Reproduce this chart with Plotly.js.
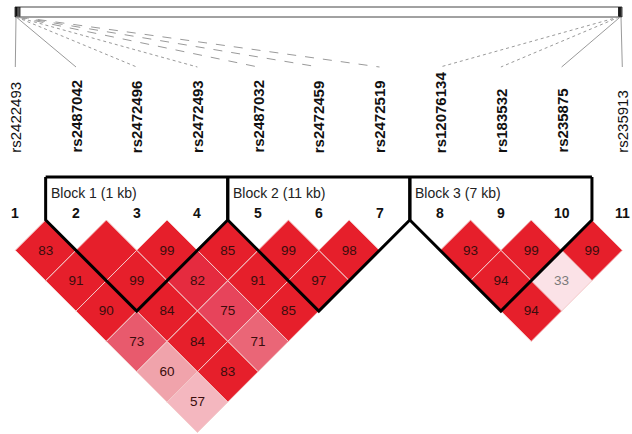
<!DOCTYPE html>
<html><head><meta charset="utf-8">
<script src="https://cdn.plot.ly/plotly-3.0.1.min.js"></script>
<style>html,body{margin:0;padding:0;background:#fff}#chart{width:632px;height:434px}</style>
</head><body><div id="chart"></div>
<script>
// ---- data ----
const snpNames = ['rs2422493','rs2487042','rs2472496','rs2472493','rs2487032','rs2472459','rs2472519','rs12076134','rs183532','rs235875','rs235913'];
const snpNumbers = ['1','2','3','4','5','6','7','8','9','10','11'];
// approximate genomic positions (kb, relative)
const snpPosKb = [0, 0.6, 1.2, 1.6, 3, 7, 12.6, 2000, 2002, 2005, 2007.6];
const inBlock = [false,true,true,true,true,true,true,true,true,true,false];
// pairwise D' (x100)
const pairA = [1,2,3,4,5,6,8,9,10, 1,2,3,4,5,8,9, 1,2,3,4,8, 1,2,3, 1,2, 1];
const pairB = [2,3,4,5,6,7,9,10,11, 3,4,5,6,7,10,11, 4,5,6,7,11, 5,6,7, 6,7, 7];
const dprime = [83,100,99,85,99,98,93,99,99, 91,99,82,91,97,94,33, 90,84,75,85,94, 73,84,71, 60,83, 57];
// blocks
const blockNames = ['Block 1 (1 kb)','Block 2 (11 kb)','Block 3 (7 kb)'];
const blockStart = [2,5,8];
const blockEnd = [4,7,10];

// ---- styles ----
const RED = '#e61f2b';
const cellColors = [RED,RED,RED,RED,RED,RED,RED,RED,RED, RED,RED,'#e52b3f',RED,RED,RED,'#fbe2e7', RED,RED,'#e7445b',RED,RED, '#e85a6d',RED,'#ea6677', '#f0a3ab',RED, '#f4b7bf'];

const X0 = 15.3, STEP = 60.7, TOPY = 220, H = STEP/2;
const sx = i => X0 + (i-1)*STEP;
const barL = 15, barR = 622;
const kbMax = snpPosKb[snpPosKb.length-1];
const barX = p => barL + 1 + (barR - barL - 2) * p / kbMax;

const traces = [];
// top bar
traces.push({x:[barL,barR,barR,barL,barL], y:[7,7,17,17,7], mode:'lines', line:{color:'#444',width:1}, hoverinfo:'skip'});
// marks on bar
snpPosKb.forEach(p => {
  const bx = barX(p);
  traces.push({x:[bx,bx], y:[7,17], mode:'lines', line:{color:'#111',width:1.2}, hoverinfo:'skip'});
});
// connector lines
const dashes = ['solid','solid','dot','dot','dash','dash','dash','dot','dot','solid','solid'];
snpNames.forEach((n,k) => {
  const bx = barX(snpPosKb[k]);
  traces.push({x:[bx, sx(k+1)], y:[17, 67], mode:'lines', line:{color:'#9a9a9a', width:1, dash:dashes[k]}, hoverinfo:'skip'});
});
// diamonds
pairA.forEach((a,k) => {
  const b = pairB[k];
  const cx = (sx(a)+sx(b))/2, cy = TOPY + (b-a)*H;
  traces.push({x:[cx, cx+H, cx, cx-H, cx], y:[cy-H, cy, cy+H, cy, cy-H], mode:'lines', fill:'toself',
    fillcolor:cellColors[k], line:{color:'#f3caca', width:1}, hoverinfo:'skip'});
});
// diamond labels
traces.push({
  x: pairA.map((a,k)=>(sx(a)+sx(pairB[k]))/2),
  y: pairA.map((a,k)=>TOPY + (pairB[k]-a)*H + 1),
  text: dprime.map(v => v>=100 ? '' : String(v)),
  mode:'text', textposition:'middle center',
  textfont:{family:'Arial, Liberation Sans, sans-serif', size:13.5, color: dprime.map(v => v<50 ? '#7a7a7a' : '#3a0d0d')},
  hoverinfo:'skip'
});
// block outlines
const topLineY = 177;
traces.push({x:[sx(blockStart[0])-H, sx(blockEnd[blockEnd.length-1])+H], y:[topLineY, topLineY], mode:'lines', line:{color:'#000',width:3}, hoverinfo:'skip'});
blockStart.forEach((s,k) => {
  const e = blockEnd[k];
  const l = sx(s)-H, r = sx(e)+H, apx = (l+r)/2, apy = TOPY + (r-l)/2;
  traces.push({x:[l, l, apx, r, r], y:[topLineY, TOPY, apy, TOPY, topLineY], mode:'lines', line:{color:'#000',width:3}, hoverinfo:'skip'});
});

const annotations = [];
snpNames.forEach((n,k) => {
  annotations.push({x:sx(k+1), y:155, xref:'x', yref:'y', text:n, showarrow:false, textangle:-90,
    xanchor:'center', yanchor:'bottom', font:{family:'Arial, Liberation Sans, sans-serif', size:15, color:'#111', weight: inBlock[k] ? 'bold' : 'normal'}});
});
snpNumbers.forEach((n,k) => {
  annotations.push({x:sx(k+1), y:213, xref:'x', yref:'y', text:'<b>'+n+'</b>', showarrow:false,
    xanchor:'center', yanchor:'middle', font:{family:'Arial, Liberation Sans, sans-serif', size:14, color:'#111'}});
});
blockNames.forEach((n,k) => {
  annotations.push({x:sx(blockStart[k])-H+3, y:193, xref:'x', yref:'y', text:n, showarrow:false,
    xanchor:'left', yanchor:'middle', font:{family:'Arial, Liberation Sans, sans-serif', size:14, color:'#222'}});
});

const layout = {
  width:632, height:434, margin:{l:0,r:0,t:0,b:0}, showlegend:false,
  paper_bgcolor:'#fff', plot_bgcolor:'#fff',
  xaxis:{range:[0,632], visible:false, fixedrange:true},
  yaxis:{range:[434,0], visible:false, fixedrange:true},
  annotations
};
Plotly.newPlot('chart', traces, layout, {staticPlot:true, displayModeBar:false});
</script></body></html>
